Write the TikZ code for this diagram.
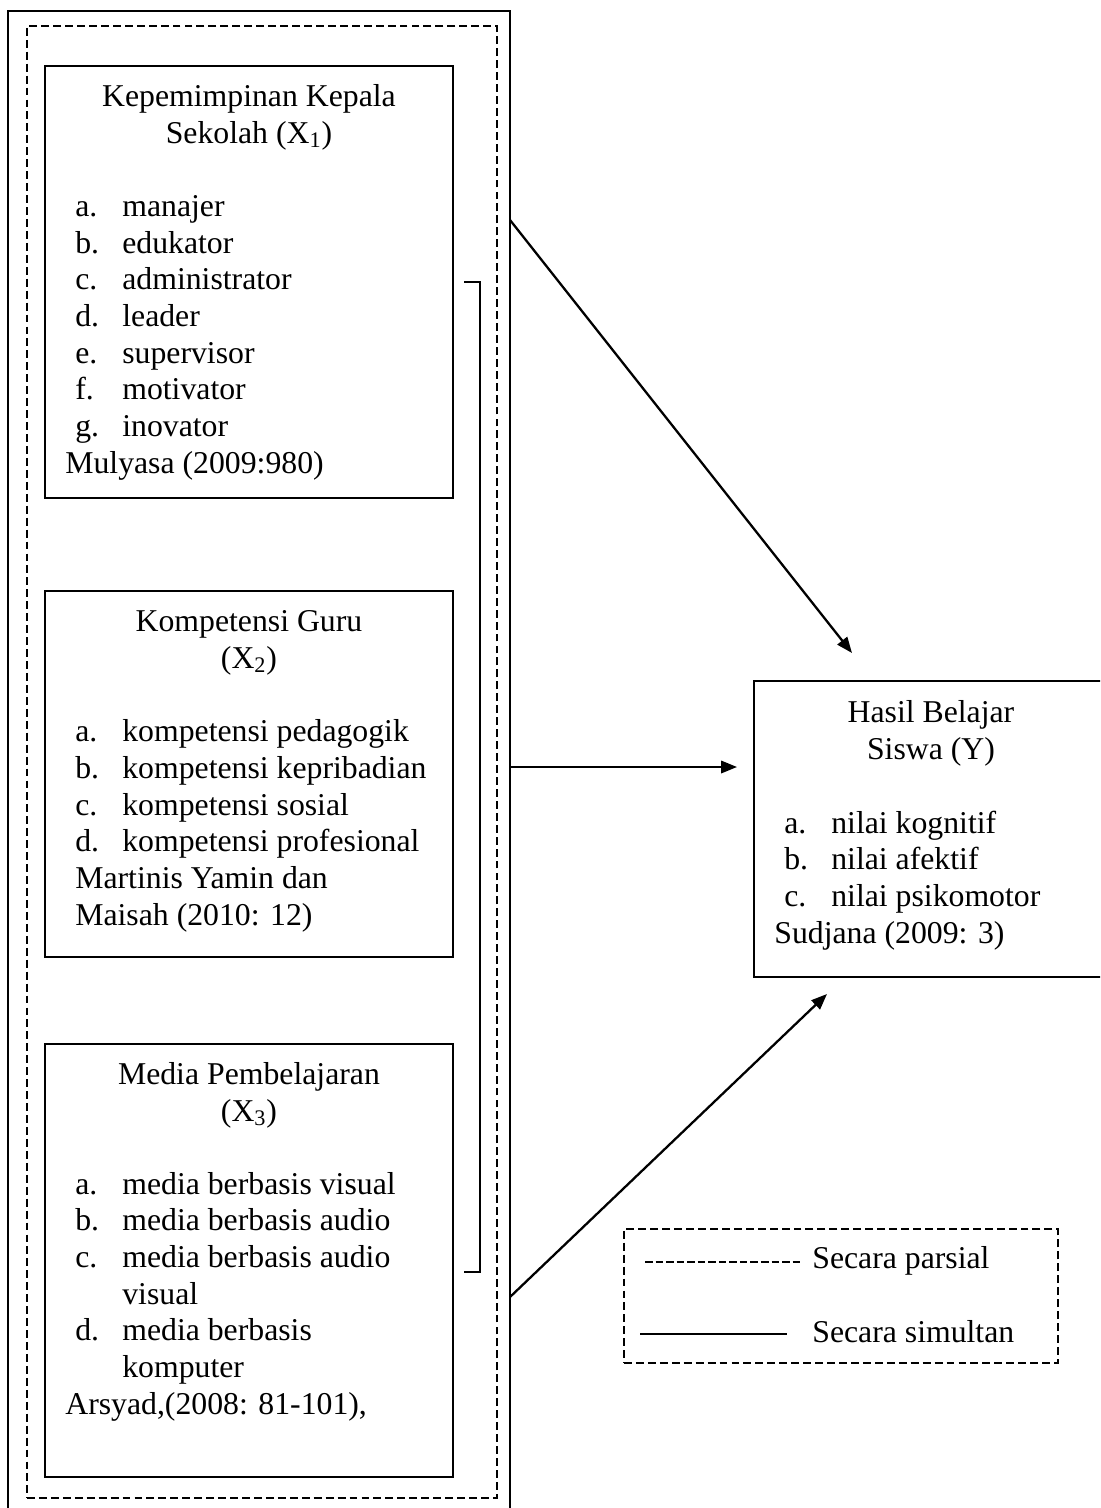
\documentclass[tikz,border=0pt]{standalone}
\usepackage{fontspec}
\setmainfont{Liberation Serif}
\usepackage{tikz}
\usetikzlibrary{arrows.meta}

\newcommand{\itm}[2]{\hspace*{0.2cm}\makebox[0.94cm][l]{#1}#2}

\tikzset{
        box/.style={draw, line width=1pt, inner sep=0pt, outer sep=0pt, anchor=north west},
        dbox/.style={box, dash pattern=on 4.5pt off 2.3pt},
        txt/.style={font=\fontsize{18.07pt}{20.87pt}\selectfont, inner sep=0pt},
        conn/.style={line width=1.3pt, -{Triangle[length=9pt,width=7pt]}}
}

\begin{document}
\begin{tikzpicture}[x=0.02cm,y=-0.02cm]
        \path[use as bounding box, clip] (0,0) rectangle (1100,1508);
        % frames and boxes
        \node[box, minimum width=10.04cm, minimum height=30.4cm] (frame) at (8,11) {};
        \node[dbox, minimum width=9.4cm, minimum height=29.44cm] (group) at (27,26) {};
        \node[box, minimum width=8.16cm, minimum height=8.64cm] (x1) at (45,66) {};
        \node[box, minimum width=8.16cm, minimum height=7.32cm] (x2) at (45,591) {};
        \node[box, minimum width=8.16cm, minimum height=8.66cm] (x3) at (45,1044) {};
        \node[box, minimum width=7.08cm, minimum height=5.92cm] (y) at (754,681) {};
        \node[dbox, minimum width=8.68cm, minimum height=2.68cm] (legend) at (624,1229) {};

        % texts (base = last line)
        \node[txt, align=center, anchor=base] (x1title) at ([shift={(0,77)}]x1.north) {Kepemimpinan Kepala\\Sekolah (X\textsubscript{1})};
        \node[txt, align=left, anchor=base west] (x1list) at ([shift={(20,407)}]x1.north west) {\itm{a.}{manajer}\\\itm{b.}{edukator}\\\itm{c.}{administrator}\\\itm{d.}{leader}\\\itm{e.}{supervisor}\\\itm{f.}{motivator}\\\itm{g.}{inovator}\\Mulyasa (2009:980)};

        \node[txt, align=center, anchor=base] (x2title) at ([shift={(0,77)}]x2.north) {Kompetensi Guru\\(X\textsubscript{2})};
        \node[txt, align=left, anchor=base west] (x2list) at ([shift={(20,334)}]x2.north west) {\itm{a.}{kompetensi pedagogik}\\\itm{b.}{kompetensi kepribadian}\\\itm{c.}{kompetensi sosial}\\\itm{d.}{kompetensi profesional}\\\hspace*{0.2cm}Martinis Yamin dan\\\hspace*{0.2cm}Maisah (2010: 12)};

        \node[txt, align=center, anchor=base] (x3title) at ([shift={(0,77)}]x3.north) {Media Pembelajaran\\(X\textsubscript{3})};
        \node[txt, align=left, anchor=base west] (x3list) at ([shift={(20,370)}]x3.north west) {\itm{a.}{media berbasis visual}\\\itm{b.}{media berbasis audio}\\\itm{c.}{media berbasis audio}\\\hspace*{1.14cm}visual\\\itm{d.}{media berbasis}\\\hspace*{1.14cm}komputer\\Arsyad,(2008: 81-101),};

        \node[txt, align=center, anchor=base] (ytitle) at ([shift={(0,78)}]y.north) {Hasil Belajar\\Siswa (Y)};
        \node[txt, align=left, anchor=base west] (ylist) at ([shift={(20,262)}]y.north west) {\itm{a.}{nilai kognitif}\\\itm{b.}{nilai afektif}\\\itm{c.}{nilai psikomotor}\\Sudjana (2009: 3)};

        % bracket over the three variables
        \draw[line width=1pt] (464,282) -| (480,1272) -- (464,1272);

        % arrows to Y
        \coordinate (s1) at (510,220);
        \coordinate (e1) at (852,653);
        \coordinate (s2) at (510,767);
        \coordinate (e2) at (737,767);
        \coordinate (s3) at (510,1297);
        \coordinate (e3) at (827,994);
        \draw[conn] (s1) -- (e1);
        \draw[conn] (s2) -- (e2);
        \draw[conn] (s3) -- (e3);

        % legend
        \draw[line width=1pt, dash pattern=on 4.3pt off 1.7pt] ([shift={(21,33)}]legend.north west) -- ++(157,0);
        \node[txt, anchor=base west] (partial) at ([shift={(188,39)}]legend.north west) {Secara parsial};
        \draw[line width=1pt] ([shift={(16,105)}]legend.north west) -- ++(147,0);
        \node[txt, anchor=base west] (simultan) at ([shift={(188,113)}]legend.north west) {Secara simultan};
\end{tikzpicture}
\end{document}
